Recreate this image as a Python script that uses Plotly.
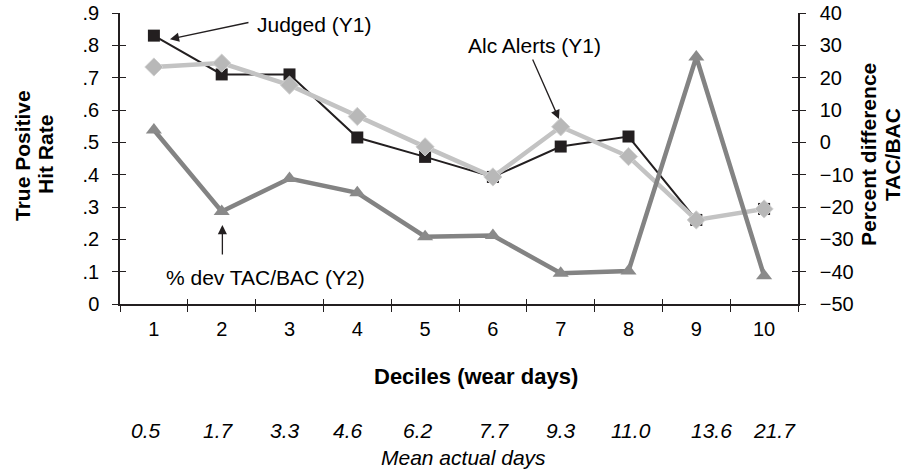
import plotly.graph_objects as go

deciles = ["1", "2", "3", "4", "5", "6", "7", "8", "9", "10"]
judged = [0.83, 0.71, 0.71, 0.515, 0.455, 0.393, 0.487, 0.518, 0.26, 0.294]
alc_alerts = [0.733, 0.745, 0.677, 0.58, 0.486, 0.393, 0.548, 0.456, 0.26, 0.294]
pct_dev = [3.8, -21.4, -11.2, -15.6, -29.2, -28.8, -40.5, -39.8, 26.4, -41.3]
mean_days = ["0.5", "1.7", "3.3", "4.6", "6.2", "7.7", "9.3", "11.0", "13.6", "21.7"]
y1_tickvals = [0, 0.1, 0.2, 0.3, 0.4, 0.5, 0.6, 0.7, 0.8, 0.9]
y1_ticktext = ["0", ".1", ".2", ".3", ".4", ".5", ".6", ".7", ".8", ".9"]
y2_tickvals = [-50, -40, -30, -20, -10, 0, 10, 20, 30, 40]

FONT = "Liberation Sans, Arial, sans-serif"
AXC = "#231f20"

fig = go.Figure()
fig.add_trace(go.Scatter(x=deciles, y=judged, mode="lines+markers", name="Judged",
                         line=dict(color="#231f20", width=2),
                         marker=dict(symbol="square", size=12, color="#231f20")))
fig.add_trace(go.Scatter(x=deciles, y=alc_alerts, mode="lines+markers", name="Alc Alerts",
                         line=dict(color="#c3c3c3", width=4.5),
                         marker=dict(symbol="diamond", size=14, color="#b8b8b8",
                                     line=dict(color="#d0d0d0", width=1))))
fig.add_trace(go.Scatter(x=deciles, y=pct_dev, mode="lines+markers", name="% dev",
                         yaxis="y2",
                         line=dict(color="#838383", width=4.5),
                         marker=dict(symbol="triangle-up", size=14, color="#8a8a8a")))
# helper empty traces so the overlay (tick) axes get drawn
fig.add_trace(go.Scatter(x=[], y=[], xaxis="x3", yaxis="y3", showlegend=False, hoverinfo="skip"))
fig.add_trace(go.Scatter(x=[], y=[], xaxis="x3", yaxis="y4", showlegend=False, hoverinfo="skip"))

tickfont = dict(family=FONT, size=20, color="#000000")

fig.update_layout(
    width=904, height=473,
    margin=dict(l=120, r=106, t=13, b=169, autoexpand=False),
    paper_bgcolor="white", plot_bgcolor="white",
    showlegend=False,
    font=dict(family=FONT, color="#000000"),
    xaxis=dict(type="category", range=[-0.5, 9.5], tickson="boundaries",
               ticks="outside", ticklen=6, tickwidth=1.2, tickcolor=AXC,
               showline=True, linecolor=AXC, linewidth=1.5, showgrid=False,
               zeroline=False, tickfont=tickfont, ticklabelstandoff=6,
               automargin=False),
    yaxis=dict(range=[0, 0.9], tickvals=y1_tickvals, ticktext=y1_ticktext,
               ticks="outside", ticklen=6, tickwidth=1.2, tickcolor=AXC,
               showline=True, linecolor=AXC, linewidth=1.5, showgrid=False,
               zeroline=False, tickfont=tickfont, ticklabelstandoff=9,
               ticklabeloverflow="allow", automargin=False),
    yaxis2=dict(range=[-50, 40], tickvals=y2_tickvals, overlaying="y", side="right",
                ticks="outside", ticklen=6, tickwidth=1.2, tickcolor=AXC,
                showline=True, linecolor=AXC, linewidth=1.5, showgrid=False,
                zeroline=False, tickfont=tickfont, ticklabelstandoff=10,
                ticklabeloverflow="allow", automargin=False),
    xaxis3=dict(range=[-0.5, 9.5], overlaying="x", anchor="y3",
                tickvals=[0.5, 1.5, 2.5, 3.5, 4.5, 5.5, 6.5, 7.5, 8.5, 9.5],
                ticks="inside", ticklen=5, tickwidth=1.2, tickcolor=AXC,
                showticklabels=False, showline=False, showgrid=False, zeroline=False,
                automargin=False),
    yaxis3=dict(range=[0, 0.9], overlaying="y", anchor="x3", side="left",
                tickvals=y1_tickvals, ticks="inside", ticklen=6, tickwidth=1.2,
                tickcolor=AXC, showticklabels=False, showline=False,
                showgrid=False, zeroline=False, automargin=False),
    yaxis4=dict(range=[-50, 40], overlaying="y", anchor="x3", side="right",
                tickvals=y2_tickvals, ticks="inside", ticklen=6, tickwidth=1.2,
                tickcolor=AXC, showticklabels=False, showline=False,
                showgrid=False, zeroline=False, automargin=False),
)

C = dict(xanchor="center", yanchor="middle")
ann = []
# series labels
ann.append(dict(text="Judged (Y1)", x=2.36, y=0.863, xref="x", yref="y",
                showarrow=False, font=dict(family=FONT, size=21), **C))
ann.append(dict(text="", x=0.237, y=0.819, xref="x", yref="y", showarrow=True,
                ax=80, ay=-17, arrowhead=2, arrowsize=1.4, arrowwidth=1.3,
                arrowcolor=AXC, standoff=0))
ann.append(dict(text="Alc Alerts (Y1)", x=5.61, y=0.801, xref="x", yref="y",
                showarrow=False, font=dict(family=FONT, size=21), **C))
ann.append(dict(text="", x=5.975, y=0.572, xref="x", yref="y", showarrow=True,
                ax=-27, ay=-61, arrowhead=2, arrowsize=1.4, arrowwidth=1.3,
                arrowcolor=AXC, standoff=0))
ann.append(dict(text="% dev TAC/BAC (Y2)", x=1.64, y=0.0835, xref="x", yref="y",
                showarrow=False, font=dict(family=FONT, size=21), **C))
ann.append(dict(text="", x=1.01, y=-25.6, xref="x", yref="y2", showarrow=True,
                ax=0, ay=31, arrowhead=2, arrowsize=1.4, arrowwidth=1.3,
                arrowcolor=AXC, standoff=0))
# axis titles (one annotation per line for exact spacing)
title_font = dict(family=FONT, size=21)
titles = [("<b>True Positive</b>", 22), ("<b>Hit Rate</b>", 45),
          ("<b>Percent difference</b>", 868), ("<b>TAC/BAC</b>", 892)]
for t, px in titles:
    ann.append(dict(text=t, x=(px - 120) / 678.0, y=(304 - 155) / 291.0,
                    xref="paper", yref="paper", textangle=-90, showarrow=False,
                    font=title_font, **C))
ann.append(dict(text="<b>Deciles (wear days)</b>", x=(476 - 120) / 678.0, y=(304 - 376) / 291.0,
                xref="paper", yref="paper", showarrow=False,
                font=dict(family=FONT, size=22), **C))
# mean actual days row
label_pos = [-0.12, 0.95, 1.93, 2.86, 3.9, 5.02, 6.01, 7.03, 8.23, 9.15]
for p, t in zip(label_pos, mean_days):
    ann.append(dict(text="<i>" + t + "</i>", x=p, y=(304 - 430) / 291.0, xref="x",
                    yref="paper", showarrow=False, font=dict(family=FONT, size=21), **C))
ann.append(dict(text="<i>Mean actual days</i>", x=(463 - 120) / 678.0, y=(304 - 458) / 291.0,
                xref="paper", yref="paper", showarrow=False,
                font=dict(family=FONT, size=21), **C))
fig.update_layout(annotations=ann)

fig.write_html("out.html", config={"displayModeBar": False},
               post_script="document.body.style.margin='0px';document.body.style.overflow='hidden';")
